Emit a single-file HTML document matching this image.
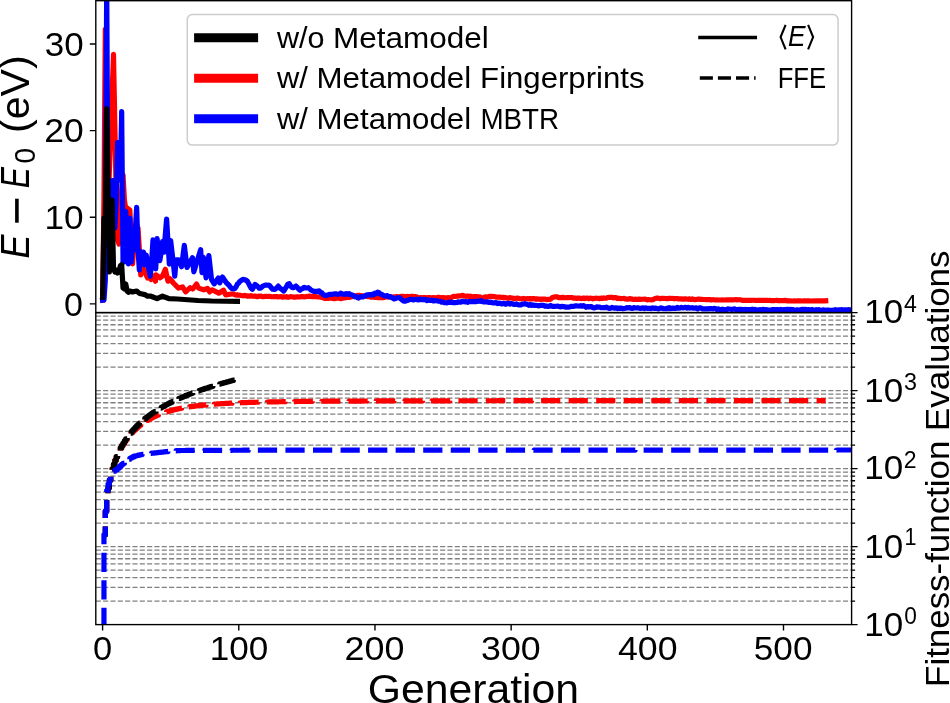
<!DOCTYPE html><html><head><meta charset="utf-8"><style>html,body{margin:0;padding:0;background:#fff;overflow:hidden;}svg{display:block;}#w{will-change:transform;width:950px;height:703px;background:#fff;}</style></head><body><div id="w"><svg width="950" height="703" viewBox="0 0 950 703">
<rect width="950" height="703" fill="#fff"/>
<defs><clipPath id="ct"><rect x="95.80" y="0.70" width="755.80" height="311.90"/></clipPath>
<clipPath id="cb"><rect x="95.80" y="312.60" width="755.80" height="312.00"/></clipPath></defs>
<path d="M95.80 601.12H851.60M95.80 587.38H851.60M95.80 577.64H851.60M95.80 570.08H851.60M95.80 563.90H851.60M95.80 558.68H851.60M95.80 554.16H851.60M95.80 550.17H851.60M95.80 546.60H851.60M95.80 523.12H851.60M95.80 509.38H851.60M95.80 499.64H851.60M95.80 492.08H851.60M95.80 485.90H851.60M95.80 480.68H851.60M95.80 476.16H851.60M95.80 472.17H851.60M95.80 468.60H851.60M95.80 445.12H851.60M95.80 431.38H851.60M95.80 421.64H851.60M95.80 414.08H851.60M95.80 407.90H851.60M95.80 402.68H851.60M95.80 398.16H851.60M95.80 394.17H851.60M95.80 390.60H851.60M95.80 367.12H851.60M95.80 353.38H851.60M95.80 343.64H851.60M95.80 336.08H851.60M95.80 329.90H851.60M95.80 324.68H851.60M95.80 320.16H851.60M95.80 316.17H851.60" stroke="#808080" stroke-width="1.39" stroke-dasharray="5.12 2.205" fill="none"/>
<g clip-path="url(#ct)" fill="none" stroke-width="5.20" stroke-linejoin="round" stroke-linecap="square">
<path d="M102.60 300.00 L103.96 200.00 L105.32 29.30 L106.69 200.00 L108.05 209.00 L109.41 170.00 L110.77 131.00 L112.13 92.80 L113.49 54.40 L114.86 125.00 L116.22 196.30 L117.58 240.00 L118.94 244.00 L120.30 215.00 L121.67 190.00 L123.03 175.00 L124.39 200.00 L125.75 209.00 L127.11 208.00 L128.47 209.00 L129.84 210.00 L131.20 240.00 L132.56 263.80 L133.92 245.00 L135.28 228.00 L136.64 225.00 L138.01 228.00 L139.37 250.00 L140.73 275.00 L142.09 265.00 L143.45 272.00 L144.82 270.00 L146.18 275.00 L147.54 278.00 L148.90 276.00 L150.94 279.40 L152.99 276.00 L155.44 281.20 L155.98 274.90 L160.20 277.80 L162.52 276.00 L165.38 269.30 L167.97 281.20 L170.01 278.80 L173.41 283.00 L178.45 288.10 L182.54 286.90 L185.67 291.80 L190.16 287.70 L192.75 289.00 L196.56 284.10 L198.61 288.10 L203.65 289.80 L207.46 288.50 L209.64 291.90 L212.09 289.80 L217.26 292.30 L218.76 293.20 L223.53 290.20 L225.57 294.80 L233.33 293.76 L234.69 294.80 L236.06 295.06 L237.42 294.85 L238.78 295.16 L240.14 295.27 L241.50 295.56 L242.87 295.79 L244.23 295.45 L245.59 295.55 L246.95 296.17 L248.31 295.93 L249.67 296.21 L251.04 295.72 L252.40 296.07 L253.76 296.31 L255.12 296.01 L256.48 296.55 L257.85 296.56 L259.21 296.00 L260.57 296.04 L261.93 296.44 L263.29 296.76 L264.65 296.41 L266.02 296.34 L267.38 296.53 L268.74 296.30 L270.10 296.47 L271.46 296.67 L272.82 296.75 L274.19 296.61 L275.55 296.65 L276.91 296.69 L278.27 296.87 L279.63 296.75 L281.00 296.57 L282.36 297.14 L283.72 296.94 L285.08 297.00 L286.44 296.68 L287.80 297.24 L289.17 297.15 L290.53 296.63 L291.89 296.78 L293.25 297.05 L294.61 297.00 L295.98 297.12 L297.34 296.71 L298.70 296.96 L300.06 296.80 L301.42 296.50 L302.78 296.66 L304.15 296.82 L305.51 296.75 L306.87 296.47 L308.23 296.48 L309.59 296.11 L310.96 296.32 L312.32 296.77 L313.68 296.57 L315.04 296.46 L316.40 296.79 L317.76 296.96 L319.13 297.00 L320.49 297.06 L321.85 297.44 L323.21 297.82 L324.57 298.34 L325.94 298.50 L327.30 298.37 L328.66 298.37 L330.02 297.99 L331.38 297.98 L332.74 298.44 L334.11 298.64 L335.47 298.37 L336.83 298.23 L338.19 298.07 L339.55 298.30 L340.91 298.64 L342.28 298.30 L343.64 297.95 L345.00 297.97 L346.36 297.34 L347.72 297.34 L349.09 297.45 L350.45 296.97 L351.81 296.65 L353.17 296.27 L354.53 296.22 L355.89 296.26 L357.26 295.35 L358.62 295.65 L359.98 295.43 L361.34 295.71 L362.70 295.85 L364.07 296.14 L365.43 296.18 L366.79 296.46 L368.15 296.60 L369.51 296.50 L370.87 297.22 L372.24 297.15 L373.60 297.03 L374.96 297.38 L376.32 297.51 L377.68 297.56 L379.05 297.69 L380.41 297.72 L381.77 297.68 L383.13 297.57 L384.49 297.36 L385.85 296.96 L387.22 297.00 L388.58 296.86 L389.94 297.04 L391.30 297.13 L392.66 296.99 L394.03 296.91 L395.39 296.92 L396.75 296.53 L398.11 296.94 L399.47 296.82 L400.83 296.41 L402.20 296.36 L403.56 296.36 L404.92 296.88 L406.28 296.52 L407.64 296.43 L409.00 296.79 L410.37 296.59 L411.73 296.40 L413.09 296.46 L414.45 296.72 L415.81 296.70 L417.18 297.05 L418.54 297.64 L419.90 297.75 L421.26 297.68 L422.62 297.78 L423.98 297.47 L425.35 297.72 L426.71 297.74 L428.07 297.58 L429.43 297.53 L430.79 298.08 L432.16 297.81 L433.52 297.60 L434.88 297.87 L436.24 298.02 L437.60 297.46 L438.96 297.46 L440.33 297.55 L441.69 297.95 L443.05 297.56 L444.41 297.94 L445.77 297.92 L447.14 297.83 L448.50 297.60 L449.86 298.13 L451.22 297.61 L452.58 296.70 L453.94 296.36 L455.31 296.51 L456.67 296.19 L458.03 296.18 L459.39 295.86 L460.75 295.93 L462.12 295.39 L463.48 295.66 L464.84 296.24 L466.20 296.28 L467.56 295.98 L468.92 296.47 L470.29 296.19 L471.65 296.73 L473.01 296.71 L474.37 296.63 L475.73 296.65 L477.09 296.62 L478.46 297.37 L479.82 296.93 L481.18 297.61 L482.54 297.86 L483.90 297.49 L485.27 296.91 L486.63 297.10 L487.99 296.87 L489.35 296.38 L490.71 296.35 L492.07 296.41 L493.44 296.55 L494.80 296.61 L496.16 297.09 L497.52 297.08 L498.88 297.07 L500.25 297.11 L501.61 297.59 L502.97 297.42 L504.33 297.66 L505.69 297.62 L507.05 298.10 L508.42 298.21 L509.78 297.68 L511.14 297.87 L512.50 298.02 L513.86 298.55 L515.23 298.47 L516.59 298.22 L517.95 298.20 L519.31 298.59 L520.67 298.75 L522.03 298.84 L523.40 298.46 L524.76 298.86 L526.12 298.75 L527.48 298.63 L528.84 299.01 L530.21 298.51 L531.57 298.91 L532.93 298.52 L534.29 298.64 L535.65 299.22 L537.01 298.79 L538.38 299.23 L539.74 299.18 L541.10 299.41 L542.46 299.14 L543.82 299.18 L545.18 299.20 L546.55 299.63 L547.91 299.28 L549.27 299.36 L550.63 299.10 L551.99 297.80 L553.36 297.33 L554.72 296.86 L556.08 296.86 L557.44 296.94 L558.80 297.54 L560.16 297.54 L561.53 297.62 L562.89 297.32 L564.25 297.57 L565.61 297.73 L566.97 297.50 L568.34 297.70 L569.70 297.52 L571.06 297.49 L572.42 297.69 L573.78 298.20 L575.14 298.04 L576.51 298.36 L577.87 298.10 L579.23 298.04 L580.59 298.47 L581.95 298.57 L583.32 298.06 L584.68 298.53 L586.04 298.13 L587.40 298.16 L588.76 298.70 L590.12 298.12 L591.49 298.27 L592.85 298.80 L594.21 298.41 L595.57 298.21 L596.93 298.25 L598.30 298.32 L599.66 298.60 L601.02 298.02 L602.38 298.46 L603.74 297.96 L605.10 298.24 L606.47 298.07 L607.83 297.51 L609.19 297.35 L610.55 297.39 L611.91 297.28 L613.27 297.83 L614.64 297.56 L616.00 297.69 L617.36 298.53 L618.72 298.21 L620.08 298.57 L621.45 298.53 L622.81 298.49 L624.17 298.38 L625.53 299.03 L626.89 299.13 L628.25 299.19 L629.62 298.65 L630.98 298.79 L632.34 299.13 L633.70 299.44 L635.06 299.20 L636.43 299.35 L637.79 299.38 L639.15 299.14 L640.51 299.38 L641.87 299.26 L643.23 299.26 L644.60 299.19 L645.96 299.37 L647.32 299.90 L648.68 299.57 L650.04 299.76 L651.41 299.79 L652.77 299.67 L654.13 298.89 L655.49 298.44 L656.85 298.08 L658.21 298.12 L659.58 298.53 L660.94 298.61 L662.30 298.24 L663.66 298.30 L665.02 298.49 L666.39 298.56 L667.75 298.61 L669.11 298.41 L670.47 298.30 L671.83 298.50 L673.19 298.41 L674.56 298.78 L675.92 298.48 L677.28 298.51 L678.64 298.94 L680.00 298.73 L681.37 299.11 L682.73 298.94 L684.09 299.23 L685.45 298.76 L686.81 299.04 L688.17 299.28 L689.54 298.81 L690.90 299.45 L692.26 298.94 L693.62 299.39 L694.98 299.58 L696.34 299.51 L697.71 299.20 L699.07 299.09 L700.43 299.41 L701.79 299.38 L703.15 299.50 L704.52 299.50 L705.88 299.60 L707.24 299.64 L708.60 299.55 L709.96 299.58 L711.32 299.82 L712.69 299.72 L714.05 299.76 L715.41 299.98 L716.77 299.89 L718.13 300.02 L719.50 299.98 L720.86 300.02 L722.22 299.88 L723.58 299.98 L724.94 300.02 L726.30 299.91 L727.67 299.95 L729.03 299.91 L730.39 299.74 L731.75 299.89 L733.11 299.83 L734.48 299.74 L735.84 299.66 L737.20 299.84 L738.56 299.72 L739.92 299.76 L741.28 300.06 L742.65 300.35 L744.01 300.41 L745.37 300.29 L746.73 300.39 L748.09 300.31 L749.45 300.44 L750.82 300.43 L752.18 300.25 L753.54 300.26 L754.90 300.29 L756.26 300.48 L757.63 300.35 L758.99 300.41 L760.35 300.33 L761.71 300.39 L763.07 300.37 L764.43 300.37 L765.80 300.43 L767.16 300.43 L768.52 300.52 L769.88 300.47 L771.24 300.53 L772.61 300.52 L773.97 300.56 L775.33 300.49 L776.69 300.38 L778.05 300.55 L779.41 300.58 L780.78 300.57 L782.14 300.50 L783.50 300.54 L784.86 300.42 L786.22 300.58 L787.59 300.86 L788.95 300.85 L790.31 300.80 L791.67 300.98 L793.03 301.02 L794.39 300.80 L795.76 300.97 L797.12 300.88 L798.48 300.82 L799.84 300.85 L801.20 300.96 L802.57 300.99 L803.93 300.79 L805.29 300.93 L806.65 300.79 L808.01 300.95 L809.37 300.86 L810.74 300.99 L812.10 301.02 L813.46 300.90 L814.82 301.02 L816.18 300.85 L817.54 300.80 L818.91 300.92 L820.27 300.79 L821.63 300.83 L822.99 300.88 L824.35 300.93 L825.72 300.82" stroke="#ff0000"/>
<path d="M102.60 300.20 L103.96 300.00 L105.32 280.00 L106.69 -16.60 L108.05 228.00 L109.41 180.60 L110.77 225.00 L112.13 180.60 L113.49 180.60 L114.86 228.00 L116.22 200.00 L117.58 142.60 L118.94 142.60 L120.30 180.00 L121.67 111.60 L123.03 262.00 L124.39 262.00 L125.75 211.30 L127.11 240.00 L128.47 264.00 L129.84 218.00 L131.20 262.00 L132.56 240.00 L133.92 250.00 L135.28 230.00 L136.64 207.30 L138.01 250.00 L139.37 270.00 L140.73 251.60 L142.09 262.00 L143.45 252.00 L144.82 265.00 L146.18 255.00 L147.54 262.00 L148.90 270.00 L150.26 276.10 L151.62 262.00 L152.99 239.90 L154.35 250.00 L155.71 268.80 L157.07 238.60 L158.43 250.00 L159.80 260.70 L161.16 252.00 L162.52 241.60 L163.88 252.20 L166.60 219.00 L169.33 264.10 L170.69 240.70 L174.78 276.10 L176.14 259.90 L178.86 259.90 L181.58 266.70 L184.31 245.40 L187.03 267.50 L192.48 257.80 L193.84 271.80 L200.65 249.70 L202.01 272.70 L203.37 257.40 L206.10 277.80 L208.82 255.60 L211.54 279.50 L214.27 283.80 L218.35 277.90 L219.71 282.90 L222.44 277.00 L226.52 282.90 L229.25 285.50 L230.61 287.34 L231.97 288.59 L233.33 288.77 L234.69 288.63 L236.06 286.85 L237.42 284.07 L238.78 282.76 L240.14 281.09 L241.50 280.22 L242.87 279.32 L244.23 279.78 L245.59 279.76 L246.95 280.76 L248.31 282.90 L249.67 285.48 L251.04 287.99 L252.40 289.19 L253.76 286.66 L255.12 284.50 L256.48 285.37 L257.85 286.65 L259.21 288.20 L260.57 288.17 L261.93 286.87 L263.29 285.82 L264.65 285.31 L266.02 285.02 L267.38 285.26 L268.74 285.06 L270.10 286.14 L271.46 287.99 L272.82 289.25 L274.19 289.41 L275.55 289.03 L276.91 287.67 L278.27 286.11 L279.63 287.85 L281.00 288.81 L282.36 289.82 L283.72 291.06 L285.08 288.82 L286.44 286.78 L287.80 284.19 L289.17 283.72 L290.53 285.95 L291.89 287.25 L293.25 287.73 L294.61 287.00 L295.98 286.02 L297.34 287.30 L298.70 289.04 L300.06 290.26 L301.42 288.91 L302.78 288.46 L304.15 287.32 L305.51 287.96 L306.87 287.98 L308.23 287.67 L309.59 288.71 L310.96 290.04 L312.32 290.71 L313.68 291.34 L315.04 291.29 L316.40 291.28 L317.76 291.60 L319.13 290.83 L320.49 292.49 L321.85 292.82 L323.21 294.69 L324.57 295.07 L325.94 295.69 L327.30 295.11 L328.66 294.58 L330.02 294.32 L331.38 294.43 L332.74 294.31 L334.11 293.93 L335.47 293.76 L336.83 294.02 L338.19 294.39 L339.55 293.89 L340.91 293.10 L342.28 294.06 L343.64 294.03 L345.00 294.32 L346.36 293.55 L347.72 294.29 L349.09 293.55 L350.45 294.70 L351.81 294.84 L353.17 295.39 L354.53 296.77 L355.89 296.44 L357.26 297.54 L358.62 298.04 L359.98 296.95 L361.34 296.55 L362.70 296.99 L364.07 296.05 L365.43 296.02 L366.79 294.81 L368.15 294.95 L369.51 294.56 L370.87 295.01 L372.24 294.14 L373.60 294.78 L374.96 293.18 L376.32 293.53 L377.68 292.18 L379.05 292.64 L380.41 294.21 L381.77 294.33 L383.13 295.27 L384.49 296.05 L385.85 295.82 L387.22 295.54 L388.58 296.88 L389.94 296.54 L391.30 297.07 L392.66 298.10 L394.03 298.88 L395.39 298.77 L396.75 297.75 L398.11 297.76 L399.47 297.58 L400.83 298.91 L402.20 300.11 L403.56 300.90 L404.92 301.27 L406.28 300.68 L407.64 300.40 L409.00 299.80 L410.37 299.45 L411.73 299.28 L413.09 299.94 L414.45 299.66 L415.81 299.32 L417.18 299.60 L418.54 299.99 L419.90 298.96 L421.26 299.62 L422.62 299.52 L423.98 299.80 L425.35 299.48 L426.71 300.59 L428.07 299.88 L429.43 300.43 L430.79 300.35 L432.16 300.07 L433.52 300.93 L434.88 300.64 L436.24 300.74 L437.60 300.92 L438.96 301.28 L440.33 301.41 L441.69 302.19 L443.05 302.11 L444.41 302.74 L445.77 302.75 L447.14 302.88 L448.50 302.03 L449.86 302.35 L451.22 302.18 L452.58 302.56 L453.94 302.54 L455.31 302.68 L456.67 302.51 L458.03 301.90 L459.39 302.04 L460.75 302.10 L462.12 301.41 L463.48 301.44 L464.84 301.89 L466.20 301.53 L467.56 302.27 L468.92 301.69 L470.29 301.52 L471.65 301.62 L473.01 301.63 L474.37 301.45 L475.73 301.65 L477.09 301.42 L478.46 301.07 L479.82 301.31 L481.18 300.68 L482.54 301.73 L483.90 302.01 L485.27 301.95 L486.63 301.81 L487.99 302.11 L489.35 302.41 L490.71 301.99 L492.07 302.65 L493.44 302.99 L494.80 302.68 L496.16 302.65 L497.52 303.58 L498.88 303.14 L500.25 303.40 L501.61 303.96 L502.97 303.66 L504.33 303.35 L505.69 304.25 L507.05 303.58 L508.42 303.22 L509.78 304.09 L511.14 303.45 L512.50 303.76 L513.86 304.47 L515.23 304.42 L516.59 303.91 L517.95 304.72 L519.31 304.95 L520.67 304.93 L522.03 304.09 L523.40 304.13 L524.76 303.70 L526.12 304.14 L527.48 304.43 L528.84 305.30 L530.21 304.45 L531.57 305.39 L532.93 304.82 L534.29 305.37 L535.65 305.26 L537.01 305.45 L538.38 305.90 L539.74 305.58 L541.10 305.35 L542.46 305.37 L543.82 305.35 L545.18 306.30 L546.55 306.07 L547.91 306.48 L549.27 306.19 L550.63 305.41 L551.99 306.21 L553.36 306.43 L554.72 306.45 L556.08 306.25 L557.44 306.16 L558.80 306.36 L560.16 306.85 L561.53 306.29 L562.89 306.63 L564.25 306.57 L565.61 307.15 L566.97 306.97 L568.34 307.12 L569.70 307.00 L571.06 306.36 L572.42 306.28 L573.78 306.41 L575.14 305.93 L576.51 305.93 L577.87 306.03 L579.23 306.12 L580.59 305.72 L581.95 306.25 L583.32 305.65 L584.68 306.22 L586.04 307.25 L587.40 306.49 L588.76 307.01 L590.12 306.63 L591.49 306.70 L592.85 307.72 L594.21 307.87 L595.57 307.50 L596.93 306.92 L598.30 307.17 L599.66 307.13 L601.02 307.70 L602.38 307.76 L603.74 307.51 L605.10 307.66 L606.47 307.22 L607.83 307.79 L609.19 308.33 L610.55 308.15 L611.91 307.41 L613.27 307.96 L614.64 308.25 L616.00 307.76 L617.36 308.57 L618.72 308.10 L620.08 308.44 L621.45 308.06 L622.81 308.75 L624.17 308.48 L625.53 308.21 L626.89 307.68 L628.25 308.01 L629.62 307.50 L630.98 308.16 L632.34 308.48 L633.70 307.62 L635.06 308.00 L636.43 307.94 L637.79 307.83 L639.15 308.18 L640.51 308.43 L641.87 308.17 L643.23 307.92 L644.60 308.54 L645.96 307.81 L647.32 308.34 L648.68 308.27 L650.04 308.43 L651.41 308.57 L652.77 307.85 L654.13 308.36 L655.49 308.13 L656.85 308.48 L658.21 308.88 L659.58 308.50 L660.94 307.79 L662.30 308.35 L663.66 308.59 L665.02 308.75 L666.39 308.42 L667.75 308.57 L669.11 307.55 L670.47 308.61 L671.83 308.31 L673.19 308.11 L674.56 308.41 L675.92 308.34 L677.28 307.35 L678.64 308.15 L680.00 308.04 L681.37 307.31 L682.73 307.91 L684.09 307.74 L685.45 307.33 L686.81 308.13 L688.17 307.40 L689.54 308.03 L690.90 307.88 L692.26 307.72 L693.62 308.16 L694.98 308.10 L696.34 307.85 L697.71 308.83 L699.07 307.82 L700.43 307.80 L701.79 308.44 L703.15 308.93 L704.52 308.77 L705.88 308.95 L707.24 308.69 L708.60 308.98 L709.96 308.64 L711.32 308.62 L712.69 308.97 L714.05 308.46 L715.41 308.58 L716.77 309.46 L718.13 308.82 L719.50 309.58 L720.86 309.65 L722.22 309.21 L723.58 309.55 L724.94 309.70 L726.30 309.81 L727.67 308.95 L729.03 309.00 L730.39 309.28 L731.75 309.39 L733.11 309.20 L734.48 308.88 L735.84 309.55 L737.20 310.05 L738.56 309.35 L739.92 309.57 L741.28 309.40 L742.65 309.49 L744.01 310.02 L745.37 309.36 L746.73 309.78 L748.09 309.60 L749.45 309.68 L750.82 310.15 L752.18 309.16 L753.54 310.07 L754.90 309.46 L756.26 309.89 L757.63 310.08 L758.99 309.93 L760.35 309.63 L761.71 310.18 L763.07 309.30 L764.43 309.96 L765.80 309.67 L767.16 309.84 L768.52 310.22 L769.88 310.16 L771.24 309.95 L772.61 309.57 L773.97 309.48 L775.33 309.75 L776.69 309.48 L778.05 309.53 L779.41 310.35 L780.78 309.33 L782.14 310.18 L783.50 309.66 L784.86 309.64 L786.22 309.58 L787.59 309.29 L788.95 309.75 L790.31 309.40 L791.67 309.73 L793.03 309.55 L794.39 310.27 L795.76 310.31 L797.12 309.73 L798.48 309.97 L799.84 310.32 L801.20 309.59 L802.57 309.32 L803.93 309.49 L805.29 309.43 L806.65 310.01 L808.01 309.65 L809.37 309.63 L810.74 310.16 L812.10 309.49 L813.46 310.19 L814.82 309.98 L816.18 309.71 L817.54 310.22 L818.91 309.65 L820.27 310.30 L821.63 310.36 L822.99 309.86 L824.35 310.09 L825.72 310.41 L827.08 310.16 L828.44 310.18 L829.80 310.33 L831.16 310.41 L832.52 310.20 L833.89 310.47 L835.25 309.65 L836.61 310.06 L837.97 310.12 L839.33 309.76 L840.70 309.80 L842.06 309.54 L843.42 310.48 L844.78 309.77 L846.14 309.92 L847.50 310.42 L848.87 309.58 L850.23 310.51 L851.59 309.52 L852.95 309.41 L854.31 309.80 L855.68 309.81 L857.04 310.49 L858.40 310.45 L859.76 310.31 L861.12 309.92 L862.48 310.05 L863.85 309.68 L865.21 310.40" stroke="#0000ff"/>
<path d="M102.60 297.30 L103.96 218.00 L105.32 222.00 L106.69 108.50 L108.05 190.00 L109.41 272.00 L110.77 215.00 L112.13 200.20 L113.49 268.00 L114.86 272.00 L116.22 270.00 L117.58 273.00 L118.94 272.00 L120.30 266.00 L121.67 264.70 L123.03 288.00 L124.39 289.00 L125.75 284.00 L127.11 291.00 L128.47 292.20 L129.84 291.00 L132.56 292.00 L136.64 291.00 L139.37 293.40 L142.09 294.00 L144.82 294.60 L147.54 296.20 L150.26 296.00 L152.99 297.00 L157.07 298.70 L162.52 296.20 L169.33 298.70 L177.50 299.00 L184.31 299.50 L197.93 300.50 L211.54 301.00 L237.42 301.30" stroke="#000000"/>
</g>
<g clip-path="url(#cb)" fill="none" stroke-linejoin="round" stroke-linecap="butt">
<path d="M103.96 534.72 L105.32 534.72 L105.32 511.24 L106.69 511.24 L106.69 497.51 L108.05 497.51 L108.05 487.78 L109.41 487.78 L109.41 480.23 L110.77 480.23 L110.77 474.07 L112.13 474.07 L112.13 468.87 L113.49 468.87 L113.49 464.38 L114.86 464.38 L114.86 460.42 L116.22 460.42 L116.22 456.90 L117.58 456.90 L117.58 453.72 L118.94 453.72 L118.94 450.82 L120.30 450.82 L120.30 448.18 L121.67 448.18 L121.67 445.74 L123.03 445.74 L123.03 443.48 L124.39 443.48 L124.39 441.38 L125.75 441.38 L125.75 439.42 L127.11 439.42 L127.11 437.59 L128.47 437.59 L128.47 435.88 L129.84 435.88 L129.84 434.26 L131.20 434.26 L131.20 432.74 L132.56 432.74 L132.56 431.31 L133.92 431.31 L133.92 429.95 L135.28 429.95 L135.28 428.67 L136.64 428.67 L136.64 427.45 L138.01 427.45 L138.01 426.30 L139.37 426.30 L139.37 425.21 L140.73 425.21 L140.73 424.17 L142.09 424.17 L142.09 423.18 L143.45 423.18 L143.45 422.24 L144.82 422.24 L144.82 421.35 L146.18 421.35 L146.18 420.50 L147.54 420.50 L147.54 419.69 L148.90 419.69 L148.90 418.92 L150.26 418.92 L150.26 418.19 L151.62 418.19 L151.62 417.48 L152.99 417.48 L152.99 416.82 L154.35 416.82 L154.35 416.18 L155.71 416.18 L155.71 415.57 L157.07 415.57 L157.07 414.99 L158.43 414.99 L158.43 414.44 L159.80 414.44 L159.80 413.91 L161.16 413.91 L161.16 413.40 L162.52 413.40 L162.52 412.92" stroke="#ff0000" stroke-width="5.20" stroke-dasharray="19.24 8.32" stroke-dashoffset="9.59"/>
<path d="M162.52 412.92 L163.88 412.92 L163.88 412.46 L165.24 412.46 L165.24 412.02 L166.60 412.02 L166.60 411.60 L167.97 411.60 L167.97 411.20 L169.33 411.20 L169.33 410.81 L170.69 410.81 L170.69 410.44 L172.05 410.44 L172.05 410.09 L173.41 410.09 L173.41 409.75 L174.78 409.75 L174.78 409.43 L176.14 409.43 L176.14 409.12 L177.50 409.12 L177.50 408.83 L178.86 408.83 L178.86 408.54 L180.22 408.54 L180.22 408.27 L181.58 408.27 L181.58 408.01 L182.95 408.01 L182.95 407.77 L184.31 407.77 L184.31 407.53 L185.67 407.53 L185.67 407.30 L187.03 407.30 L187.03 407.08 L188.39 407.08 L188.39 406.87 L189.76 406.87 L189.76 406.67 L191.12 406.67 L191.12 406.47 L192.48 406.47 L192.48 406.29 L193.84 406.29 L193.84 406.11 L195.20 406.11 L195.20 405.94 L196.56 405.94 L196.56 405.77 L197.93 405.77 L197.93 405.61 L199.29 405.61 L199.29 405.46 L200.65 405.46 L200.65 405.31 L202.01 405.31 L202.01 405.17 L203.37 405.17 L203.37 405.04 L204.73 405.04 L204.73 404.91 L206.10 404.91 L206.10 404.78 L207.46 404.78 L207.46 404.66 L208.82 404.66 L208.82 404.55 L210.18 404.55 L210.18 404.43 L211.54 404.43 L211.54 404.33 L212.91 404.33 L212.91 404.22 L214.27 404.22 L214.27 404.12 L215.63 404.12 L215.63 404.02 L216.99 404.02 L216.99 403.93 L218.35 403.93 L218.35 403.84 L219.71 403.84 L219.71 403.75 L221.08 403.75 L221.08 403.67 L222.44 403.67 L222.44 403.59 L223.80 403.59 L223.80 403.51 L225.16 403.51 L225.16 403.44 L226.52 403.44 L226.52 403.36 L227.89 403.36 L227.89 403.29 L229.25 403.29 L229.25 403.22 L230.61 403.22 L230.61 403.16 L231.97 403.16 L231.97 403.09 L233.33 403.09 L233.33 403.03 L234.69 403.03 L234.69 402.97 L236.06 402.97 L236.06 402.91 L237.42 402.91 L237.42 402.86 L238.78 402.86 L238.78 402.80 L240.14 402.80 L240.14 402.75 L241.50 402.75 L241.50 402.70 L242.87 402.70 L242.87 402.65 L244.23 402.65 L244.23 402.60 L245.59 402.60 L245.59 402.56 L246.95 402.56 L246.95 402.51 L248.31 402.51 L248.31 402.47 L249.67 402.47 L249.67 402.43 L251.04 402.43 L251.04 402.39 L252.40 402.39 L252.40 402.35 L253.76 402.35 L253.76 402.31 L255.12 402.31 L255.12 402.27 L256.48 402.27 L256.48 402.23 L257.85 402.23 L257.85 402.20 L259.21 402.20 L259.21 402.16 L260.57 402.16 L260.57 402.13 L261.93 402.13 L261.93 402.10 L263.29 402.10 L263.29 402.07 L264.65 402.07 L264.65 402.04 L266.02 402.04 L266.02 402.01 L267.38 402.01 L267.38 401.98 L268.74 401.98 L268.74 401.95 L270.10 401.95 L270.10 401.92 L271.46 401.92 L271.46 401.89 L272.82 401.89 L272.82 401.87 L274.19 401.87 L274.19 401.84 L275.55 401.84 L275.55 401.82 L276.91 401.82 L276.91 401.79 L278.27 401.79 L278.27 401.77 L279.63 401.77 L279.63 401.75 L281.00 401.75 L281.00 401.73 L282.36 401.73 L282.36 401.70 L283.72 401.70 L283.72 401.68 L285.08 401.68 L285.08 401.66 L286.44 401.66 L286.44 401.64 L287.80 401.64 L287.80 401.62 L289.17 401.62 L289.17 401.60 L290.53 401.60 L290.53 401.59 L291.89 401.59 L291.89 401.57 L293.25 401.57 L293.25 401.55 L294.61 401.55 L294.61 401.53 L295.98 401.53 L295.98 401.52 L297.34 401.52 L297.34 401.50 L298.70 401.50 L298.70 401.48 L300.06 401.48 L300.06 401.47 L301.42 401.47 L301.42 401.45 L302.78 401.45 L302.78 401.44 L304.15 401.44 L304.15 401.42 L305.51 401.42 L305.51 401.41 L306.87 401.41 L306.87 401.39 L308.23 401.39 L308.23 401.38 L309.59 401.38 L309.59 401.37 L310.96 401.37 L310.96 401.35 L312.32 401.35 L312.32 401.34 L313.68 401.34 L313.68 401.33 L315.04 401.33 L315.04 401.32 L316.40 401.32 L316.40 401.30 L317.76 401.30 L317.76 401.29 L319.13 401.29 L319.13 401.28 L320.49 401.28 L320.49 401.27 L321.85 401.27 L321.85 401.26 L323.21 401.26 L323.21 401.25 L324.57 401.25 L324.57 401.24 L325.94 401.24 L325.94 401.23 L327.30 401.23 L327.30 401.22 L328.66 401.22 L328.66 401.21 L330.02 401.21 L330.02 401.20 L331.38 401.20 L331.38 401.19 L332.74 401.19 L332.74 401.18 L334.11 401.18 L334.11 401.17 L335.47 401.17 L335.47 401.16 L336.83 401.16 L336.83 401.15 L338.19 401.15 L338.19 401.14 L339.55 401.14 L339.55 401.14 L340.91 401.14 L340.91 401.13 L342.28 401.13 L342.28 401.12 L343.64 401.12 L343.64 401.11 L345.00 401.11 L345.00 401.10 L346.36 401.10 L346.36 401.10 L347.72 401.10 L347.72 401.09 L349.09 401.09 L349.09 401.08 L350.45 401.08 L350.45 401.08 L351.81 401.08 L351.81 401.07 L353.17 401.07 L353.17 401.06 L354.53 401.06 L354.53 401.05 L355.89 401.05 L355.89 401.05 L357.26 401.05 L357.26 401.04 L358.62 401.04 L358.62 401.04 L359.98 401.04 L359.98 401.03 L361.34 401.03 L361.34 401.02 L362.70 401.02 L362.70 401.02 L364.07 401.02 L364.07 401.01 L365.43 401.01 L365.43 401.01 L366.79 401.01 L366.79 401.00 L368.15 401.00 L368.15 400.99 L369.51 400.99 L369.51 400.99 L370.87 400.99 L370.87 400.98 L372.24 400.98 L372.24 400.98 L373.60 400.98 L373.60 400.97 L374.96 400.97 L374.96 400.97 L376.32 400.97 L376.32 400.96 L377.68 400.96 L377.68 400.96 L379.05 400.96 L379.05 400.95 L380.41 400.95 L380.41 400.95 L381.77 400.95 L381.77 400.94 L383.13 400.94 L383.13 400.94 L384.49 400.94 L384.49 400.93 L385.85 400.93 L385.85 400.93 L387.22 400.93 L387.22 400.93 L388.58 400.93 L388.58 400.92 L389.94 400.92 L389.94 400.92 L391.30 400.92 L391.30 400.91 L392.66 400.91 L392.66 400.91 L394.03 400.91 L394.03 400.90 L395.39 400.90 L395.39 400.90 L396.75 400.90 L396.75 400.90 L398.11 400.90 L398.11 400.89 L399.47 400.89 L399.47 400.89 L400.83 400.89 L400.83 400.89 L402.20 400.89 L402.20 400.88 L403.56 400.88 L403.56 400.88 L404.92 400.88 L404.92 400.87 L406.28 400.87 L406.28 400.87 L407.64 400.87 L407.64 400.87 L409.00 400.87 L409.00 400.86 L410.37 400.86 L410.37 400.86 L411.73 400.86 L411.73 400.86 L413.09 400.86 L413.09 400.85 L414.45 400.85 L414.45 400.85 L415.81 400.85 L415.81 400.85 L417.18 400.85 L417.18 400.85 L418.54 400.85 L418.54 400.84 L419.90 400.84 L419.90 400.84 L421.26 400.84 L421.26 400.84 L422.62 400.84 L422.62 400.83 L423.98 400.83 L423.98 400.83 L425.35 400.83 L425.35 400.83 L426.71 400.83 L426.71 400.82 L428.07 400.82 L428.07 400.82 L429.43 400.82 L429.43 400.82 L430.79 400.82 L430.79 400.82 L432.16 400.82 L432.16 400.81 L433.52 400.81 L433.52 400.81 L434.88 400.81 L434.88 400.81 L436.24 400.81 L436.24 400.81 L437.60 400.81 L437.60 400.80 L438.96 400.80 L438.96 400.80 L440.33 400.80 L440.33 400.80 L441.69 400.80 L441.69 400.80 L443.05 400.80 L443.05 400.79 L444.41 400.79 L444.41 400.79 L445.77 400.79 L445.77 400.79 L447.14 400.79 L447.14 400.79 L448.50 400.79 L448.50 400.79 L449.86 400.79 L449.86 400.78 L451.22 400.78 L451.22 400.78 L452.58 400.78 L452.58 400.78 L453.94 400.78 L453.94 400.78 L455.31 400.78 L455.31 400.78 L456.67 400.78 L456.67 400.77 L458.03 400.77 L458.03 400.77 L459.39 400.77 L459.39 400.77 L460.75 400.77 L460.75 400.77 L462.12 400.77 L462.12 400.77 L463.48 400.77 L463.48 400.76 L464.84 400.76 L464.84 400.76 L466.20 400.76 L466.20 400.76 L467.56 400.76 L467.56 400.76 L468.92 400.76 L468.92 400.76 L470.29 400.76 L470.29 400.75 L471.65 400.75 L471.65 400.75 L473.01 400.75 L473.01 400.75 L474.37 400.75 L474.37 400.75 L475.73 400.75 L475.73 400.75 L477.09 400.75 L477.09 400.75 L478.46 400.75 L478.46 400.74 L479.82 400.74 L479.82 400.74 L481.18 400.74 L481.18 400.74 L482.54 400.74 L482.54 400.74 L483.90 400.74 L483.90 400.74 L485.27 400.74 L485.27 400.74 L486.63 400.74 L486.63 400.74 L487.99 400.74 L487.99 400.73 L489.35 400.73 L489.35 400.73 L490.71 400.73 L490.71 400.73 L492.07 400.73 L492.07 400.73 L493.44 400.73 L493.44 400.73 L494.80 400.73 L494.80 400.73 L496.16 400.73 L496.16 400.73 L497.52 400.73 L497.52 400.72 L498.88 400.72 L498.88 400.72 L500.25 400.72 L500.25 400.72 L501.61 400.72 L501.61 400.72 L502.97 400.72 L502.97 400.72 L504.33 400.72 L504.33 400.72 L505.69 400.72 L505.69 400.72 L507.05 400.72 L507.05 400.71 L508.42 400.71 L508.42 400.71 L509.78 400.71 L509.78 400.71 L511.14 400.71 L511.14 400.71 L512.50 400.71 L512.50 400.71 L513.86 400.71 L513.86 400.71 L515.23 400.71 L515.23 400.71 L516.59 400.71 L516.59 400.71 L517.95 400.71 L517.95 400.71 L519.31 400.71 L519.31 400.70 L520.67 400.70 L520.67 400.70 L522.03 400.70 L522.03 400.70 L523.40 400.70 L523.40 400.70 L524.76 400.70 L524.76 400.70 L526.12 400.70 L526.12 400.70 L527.48 400.70 L527.48 400.70 L528.84 400.70 L528.84 400.70 L530.21 400.70 L530.21 400.70 L531.57 400.70 L531.57 400.69 L532.93 400.69 L532.93 400.69 L534.29 400.69 L534.29 400.69 L535.65 400.69 L535.65 400.69 L537.01 400.69 L537.01 400.69 L538.38 400.69 L538.38 400.69 L539.74 400.69 L539.74 400.69 L541.10 400.69 L541.10 400.69 L542.46 400.69 L542.46 400.69 L543.82 400.69 L543.82 400.69 L545.18 400.69 L545.18 400.68 L546.55 400.68 L546.55 400.68 L547.91 400.68 L547.91 400.68 L549.27 400.68 L549.27 400.68 L550.63 400.68 L550.63 400.68 L551.99 400.68 L551.99 400.68 L553.36 400.68 L553.36 400.68 L554.72 400.68 L554.72 400.68 L556.08 400.68 L556.08 400.68 L557.44 400.68 L557.44 400.68 L558.80 400.68 L558.80 400.68 L560.16 400.68 L560.16 400.68 L561.53 400.68 L561.53 400.67 L562.89 400.67 L562.89 400.67 L564.25 400.67 L564.25 400.67 L565.61 400.67 L565.61 400.67 L566.97 400.67 L566.97 400.67 L568.34 400.67 L568.34 400.67 L569.70 400.67 L569.70 400.67 L571.06 400.67 L571.06 400.67 L572.42 400.67 L572.42 400.67 L573.78 400.67 L573.78 400.67 L575.14 400.67 L575.14 400.67 L576.51 400.67 L576.51 400.67 L577.87 400.67 L577.87 400.67 L579.23 400.67 L579.23 400.67 L580.59 400.67 L580.59 400.66 L581.95 400.66 L581.95 400.66 L583.32 400.66 L583.32 400.66 L584.68 400.66 L584.68 400.66 L586.04 400.66 L586.04 400.66 L587.40 400.66 L587.40 400.66 L588.76 400.66 L588.76 400.66 L590.12 400.66 L590.12 400.66 L591.49 400.66 L591.49 400.66 L592.85 400.66 L592.85 400.66 L594.21 400.66 L594.21 400.66 L595.57 400.66 L595.57 400.66 L596.93 400.66 L596.93 400.66 L598.30 400.66 L598.30 400.66 L599.66 400.66 L599.66 400.66 L601.02 400.66 L601.02 400.66 L602.38 400.66 L602.38 400.65 L603.74 400.65 L603.74 400.65 L605.10 400.65 L605.10 400.65 L606.47 400.65 L606.47 400.65 L607.83 400.65 L607.83 400.65 L609.19 400.65 L609.19 400.65 L610.55 400.65 L610.55 400.65 L611.91 400.65 L611.91 400.65 L613.27 400.65 L613.27 400.65 L614.64 400.65 L614.64 400.65 L616.00 400.65 L616.00 400.65 L617.36 400.65 L617.36 400.65 L618.72 400.65 L618.72 400.65 L620.08 400.65 L620.08 400.65 L621.45 400.65 L621.45 400.65 L622.81 400.65 L622.81 400.65 L624.17 400.65 L624.17 400.65 L625.53 400.65 L625.53 400.65 L626.89 400.65 L626.89 400.64 L628.25 400.64 L628.25 400.64 L629.62 400.64 L629.62 400.64 L630.98 400.64 L630.98 400.64 L632.34 400.64 L632.34 400.64 L633.70 400.64 L633.70 400.64 L635.06 400.64 L635.06 400.64 L636.43 400.64 L636.43 400.64 L637.79 400.64 L637.79 400.64 L639.15 400.64 L639.15 400.64 L640.51 400.64 L640.51 400.64 L641.87 400.64 L641.87 400.64 L643.23 400.64 L643.23 400.64 L644.60 400.64 L644.60 400.64 L645.96 400.64 L645.96 400.64 L647.32 400.64 L647.32 400.64 L648.68 400.64 L648.68 400.64 L650.04 400.64 L650.04 400.64 L651.41 400.64 L651.41 400.64 L652.77 400.64 L652.77 400.64 L654.13 400.64 L654.13 400.64 L655.49 400.64 L655.49 400.64 L656.85 400.64 L656.85 400.63 L658.21 400.63 L658.21 400.63 L659.58 400.63 L659.58 400.63 L660.94 400.63 L660.94 400.63 L662.30 400.63 L662.30 400.63 L663.66 400.63 L663.66 400.63 L665.02 400.63 L665.02 400.63 L666.39 400.63 L666.39 400.63 L667.75 400.63 L667.75 400.63 L669.11 400.63 L669.11 400.63 L670.47 400.63 L670.47 400.63 L671.83 400.63 L671.83 400.63 L673.19 400.63 L673.19 400.63 L674.56 400.63 L674.56 400.63 L675.92 400.63 L675.92 400.63 L677.28 400.63 L677.28 400.63 L678.64 400.63 L678.64 400.63 L680.00 400.63 L680.00 400.63 L681.37 400.63 L681.37 400.63 L682.73 400.63 L682.73 400.63 L684.09 400.63 L684.09 400.63 L685.45 400.63 L685.45 400.63 L686.81 400.63 L686.81 400.63 L688.17 400.63 L688.17 400.63 L689.54 400.63 L689.54 400.63 L690.90 400.63 L690.90 400.63 L692.26 400.63 L692.26 400.63 L693.62 400.63 L693.62 400.63 L694.98 400.63 L694.98 400.62 L696.34 400.62 L696.34 400.62 L697.71 400.62 L697.71 400.62 L699.07 400.62 L699.07 400.62 L700.43 400.62 L700.43 400.62 L701.79 400.62 L701.79 400.62 L703.15 400.62 L703.15 400.62 L704.52 400.62 L704.52 400.62 L705.88 400.62 L705.88 400.62 L707.24 400.62 L707.24 400.62 L708.60 400.62 L708.60 400.62 L709.96 400.62 L709.96 400.62 L711.32 400.62 L711.32 400.62 L712.69 400.62 L712.69 400.62 L714.05 400.62 L714.05 400.62 L715.41 400.62 L715.41 400.62 L716.77 400.62 L716.77 400.62 L718.13 400.62 L718.13 400.62 L719.50 400.62 L719.50 400.62 L720.86 400.62 L720.86 400.62 L722.22 400.62 L722.22 400.62 L723.58 400.62 L723.58 400.62 L724.94 400.62 L724.94 400.62 L726.30 400.62 L726.30 400.62 L727.67 400.62 L727.67 400.62 L729.03 400.62 L729.03 400.62 L730.39 400.62 L730.39 400.62 L731.75 400.62 L731.75 400.62 L733.11 400.62 L733.11 400.62 L734.48 400.62 L734.48 400.62 L735.84 400.62 L735.84 400.62 L737.20 400.62 L737.20 400.62 L738.56 400.62 L738.56 400.62 L739.92 400.62 L739.92 400.62 L741.28 400.62 L741.28 400.62 L742.65 400.62 L742.65 400.62 L744.01 400.62 L744.01 400.62 L745.37 400.62 L745.37 400.61 L746.73 400.61 L746.73 400.61 L748.09 400.61 L748.09 400.61 L749.45 400.61 L749.45 400.61 L750.82 400.61 L750.82 400.61 L752.18 400.61 L752.18 400.61 L753.54 400.61 L753.54 400.61 L754.90 400.61 L754.90 400.61 L756.26 400.61 L756.26 400.61 L757.63 400.61 L757.63 400.61 L758.99 400.61 L758.99 400.61 L760.35 400.61 L760.35 400.61 L761.71 400.61 L761.71 400.61 L763.07 400.61 L763.07 400.61 L764.43 400.61 L764.43 400.61 L765.80 400.61 L765.80 400.61 L767.16 400.61 L767.16 400.61 L768.52 400.61 L768.52 400.61 L769.88 400.61 L769.88 400.61 L771.24 400.61 L771.24 400.61 L772.61 400.61 L772.61 400.61 L773.97 400.61 L773.97 400.61 L775.33 400.61 L775.33 400.61 L776.69 400.61 L776.69 400.61 L778.05 400.61 L778.05 400.61 L779.41 400.61 L779.41 400.61 L780.78 400.61 L780.78 400.61 L782.14 400.61 L782.14 400.61 L783.50 400.61 L783.50 400.61 L784.86 400.61 L784.86 400.61 L786.22 400.61 L786.22 400.61 L787.59 400.61 L787.59 400.61 L788.95 400.61 L788.95 400.61 L790.31 400.61 L790.31 400.61 L791.67 400.61 L791.67 400.61 L793.03 400.61 L793.03 400.61 L794.39 400.61 L794.39 400.61 L795.76 400.61 L795.76 400.61 L797.12 400.61 L797.12 400.61 L798.48 400.61 L798.48 400.61 L799.84 400.61 L799.84 400.61 L801.20 400.61 L801.20 400.61 L802.57 400.61 L802.57 400.61 L803.93 400.61 L803.93 400.61 L805.29 400.61 L805.29 400.61 L806.65 400.61 L806.65 400.61 L808.01 400.61 L808.01 400.61 L809.37 400.61 L809.37 400.61 L810.74 400.61 L810.74 400.61 L812.10 400.61 L812.10 400.61 L813.46 400.61 L813.46 400.60 L814.82 400.60 L814.82 400.60 L816.18 400.60 L816.18 400.60 L817.54 400.60 L817.54 400.60 L818.91 400.60 L818.91 400.60 L820.27 400.60 L820.27 400.60 L821.63 400.60 L821.63 400.60 L822.99 400.60 L822.99 400.60 L824.35 400.60 L824.35 400.60 L825.72 400.60 L825.72 400.60" stroke="#ff0000" stroke-width="5.20" stroke-dasharray="19.24 8.32" stroke-dashoffset="22.62"/>
<path d="M103.96 534.72 L105.32 534.72 L105.32 511.24 L106.69 511.24 L106.69 497.51 L108.05 497.51 L108.05 487.76 L109.41 487.76 L109.41 480.20 L110.77 480.20 L110.77 474.03 L112.13 474.03 L112.13 468.80 L113.49 468.80 L113.49 464.28 L114.86 464.28 L114.86 460.29 L116.22 460.29 L116.22 456.72 L117.58 456.72 L117.58 453.49 L118.94 453.49 L118.94 450.55 L120.30 450.55 L120.30 447.83 L121.67 447.83 L121.67 445.32 L123.03 445.32 L123.03 442.99 L124.39 442.99 L124.39 440.80 L125.75 440.80 L125.75 438.75 L127.11 438.75 L127.11 436.81 L128.47 436.81 L128.47 434.98 L129.84 434.98 L129.84 433.24 L131.20 433.24 L131.20 431.59 L132.56 431.59 L132.56 430.01 L133.92 430.01 L133.92 428.51 L135.28 428.51 L135.28 427.07 L136.64 427.07 L136.64 425.68 L138.01 425.68 L138.01 424.35 L139.37 424.35 L139.37 423.08 L140.73 423.08 L140.73 421.84 L142.09 421.84 L142.09 420.65 L143.45 420.65 L143.45 419.51 L144.82 419.51 L144.82 418.40 L146.18 418.40 L146.18 417.32 L147.54 417.32 L147.54 416.28 L148.90 416.28 L148.90 415.27 L150.26 415.27 L150.26 414.28 L151.62 414.28 L151.62 413.33 L152.99 413.33 L152.99 412.40 L154.35 412.40 L154.35 411.50 L155.71 411.50 L155.71 410.62 L157.07 410.62 L157.07 409.76 L158.43 409.76 L158.43 408.92 L159.80 408.92 L159.80 408.11 L161.16 408.11 L161.16 407.31 L162.52 407.31 L162.52 406.53 L163.88 406.53 L163.88 405.77 L165.24 405.77 L165.24 405.03 L166.60 405.03 L166.60 404.30 L167.97 404.30 L167.97 403.58 L169.33 403.58 L169.33 402.89 L170.69 402.89 L170.69 402.20 L172.05 402.20 L172.05 401.53 L173.41 401.53 L173.41 400.87 L174.78 400.87 L174.78 400.23 L176.14 400.23 L176.14 399.59 L177.50 399.59 L177.50 398.97 L178.86 398.97 L178.86 398.36 L180.22 398.36 L180.22 397.76 L181.58 397.76 L181.58 397.17 L182.95 397.17 L182.95 396.60 L184.31 396.60 L184.31 396.03 L185.67 396.03 L185.67 395.47 L187.03 395.47 L187.03 394.91 L188.39 394.91 L188.39 394.37 L189.76 394.37 L189.76 393.84 L191.12 393.84 L191.12 393.31 L192.48 393.31 L192.48 392.80 L193.84 392.80 L193.84 392.29 L195.20 392.29 L195.20 391.79 L196.56 391.79 L196.56 391.29 L197.93 391.29 L197.93 390.80 L199.29 390.80 L199.29 390.32 L200.65 390.32 L200.65 389.85 L202.01 389.85 L202.01 389.38 L203.37 389.38 L203.37 388.92 L204.73 388.92 L204.73 388.47 L206.10 388.47 L206.10 388.02 L207.46 388.02 L207.46 387.58 L208.82 387.58 L208.82 387.14 L210.18 387.14 L210.18 386.71 L211.54 386.71 L211.54 386.28 L212.91 386.28 L212.91 385.86 L214.27 385.86 L214.27 385.44 L215.63 385.44 L215.63 385.03 L216.99 385.03 L216.99 384.63 L218.35 384.63 L218.35 384.23 L219.71 384.23 L219.71 383.83 L221.08 383.83 L221.08 383.44 L222.44 383.44 L222.44 383.05 L223.80 383.05 L223.80 382.67 L225.16 382.67 L225.16 382.29 L226.52 382.29 L226.52 381.92 L227.89 381.92 L227.89 381.55 L229.25 381.55 L229.25 381.18 L230.61 381.18 L230.61 380.82 L231.97 380.82 L231.97 380.46 L233.33 380.46 L233.33 380.10 L234.69 380.10 L234.69 379.75 L236.06 379.75 L236.06 379.41 L237.42 379.41 L237.42 379.06" stroke="#000000" stroke-width="5.20" stroke-dasharray="19.24 8.32" stroke-dashoffset="9.59"/>
<path d="M103.96 1000.00 L103.96 534.70 L105.32 534.70 L105.32 511.20 L106.69 511.20 L106.69 490.50 L108.05 490.50 L108.05 484.00 L109.41 484.00 L109.41 479.50 L110.77 479.50 L110.77 476.50 L112.13 476.50 L112.13 473.50 L113.49 473.50 L113.49 471.20 L114.86 471.20 L114.86 470.32 L116.22 470.32 L116.22 469.43 L117.58 469.43 L117.58 468.33 L118.94 468.33 L118.94 466.92 L120.30 466.92 L120.30 465.51 L121.67 465.51 L121.67 464.29 L123.03 464.29 L123.03 463.26 L124.39 463.26 L124.39 462.23 L125.75 462.23 L125.75 461.20 L127.11 461.20 L127.11 460.24 L128.47 460.24 L128.47 459.27 L129.84 459.27 L129.84 458.30 L131.20 458.30 L131.20 457.59 L132.56 457.59 L132.56 456.88 L133.92 456.88 L133.92 456.17 L135.28 456.17 L135.28 455.81 L136.64 455.81 L136.64 455.50 L138.01 455.50 L138.01 455.18 L139.37 455.18 L139.37 454.86 L140.73 454.86 L140.73 454.54 L142.09 454.54 L142.09 454.23 L143.45 454.23 L143.45 454.02 L144.82 454.02 L144.82 453.88 L146.18 453.88 L146.18 453.74 L147.54 453.74 L147.54 453.60 L148.90 453.60 L148.90 453.46 L150.26 453.46 L150.26 453.32 L151.62 453.32 L151.62 453.18 L152.99 453.18 L152.99 453.04 L154.35 453.04 L154.35 452.90 L155.71 452.90 L155.71 452.76 L157.07 452.76 L157.07 452.61 L158.43 452.61 L158.43 452.46 L159.80 452.46 L159.80 452.31 L161.16 452.31 L161.16 452.16 L162.52 452.16 L162.52 452.01 L163.88 452.01 L163.88 451.86 L165.24 451.86 L165.24 451.71 L166.60 451.71 L166.60 451.56 L167.97 451.56 L167.97 451.41 L169.33 451.41 L169.33 451.26 L170.69 451.26 L170.69 451.11 L172.05 451.11 L172.05 450.97 L173.41 450.97 L173.41 450.88 L174.78 450.88 L174.78 450.79 L176.14 450.79 L176.14 450.71 L177.50 450.71 L177.50 450.62 L178.86 450.62 L178.86 450.53 L180.22 450.53 L180.22 450.50 L181.58 450.50 L181.58 450.49 L182.95 450.49 L182.95 450.48 L184.31 450.48 L184.31 450.48 L185.67 450.48 L185.67 450.47 L187.03 450.47 L187.03 450.47 L188.39 450.47 L188.39 450.46 L189.76 450.46 L189.76 450.45 L191.12 450.45 L191.12 450.45 L192.48 450.45 L192.48 450.44 L193.84 450.44 L193.84 450.44 L195.20 450.44 L195.20 450.43 L196.56 450.43 L196.56 450.42 L197.93 450.42 L197.93 450.42 L199.29 450.42 L199.29 450.41 L200.65 450.41 L200.65 450.41 L202.01 450.41 L202.01 450.40 L203.37 450.40 L203.37 450.40 L204.73 450.40 L204.73 450.39 L206.10 450.39 L206.10 450.38 L207.46 450.38 L207.46 450.38 L208.82 450.38 L208.82 450.37 L210.18 450.37 L210.18 450.37 L211.54 450.37 L211.54 450.36 L212.91 450.36 L212.91 450.35 L214.27 450.35 L214.27 450.35 L215.63 450.35 L215.63 450.34 L216.99 450.34 L216.99 450.34 L218.35 450.34 L218.35 450.33 L219.71 450.33 L219.71 450.32 L221.08 450.32 L221.08 450.32 L222.44 450.32 L222.44 450.31 L223.80 450.31 L223.80 450.31 L225.16 450.31 L225.16 450.30 L226.52 450.30 L226.52 450.29 L227.89 450.29 L227.89 450.29 L229.25 450.29 L229.25 450.28 L230.61 450.28 L230.61 450.28 L231.97 450.28 L231.97 450.27 L233.33 450.27 L233.33 450.27 L234.69 450.27 L234.69 450.26 L236.06 450.26 L236.06 450.25 L237.42 450.25 L237.42 450.25 L238.78 450.25 L238.78 450.24 L240.14 450.24 L240.14 450.24 L241.50 450.24 L241.50 450.23 L242.87 450.23 L242.87 450.22 L244.23 450.22 L244.23 450.22 L245.59 450.22 L245.59 450.21 L246.95 450.21 L246.95 450.21 L248.31 450.21 L248.31 450.20 L249.67 450.20 L249.67 450.20 L251.04 450.20 L251.04 450.20 L252.40 450.20 L252.40 450.20 L253.76 450.20 L253.76 450.20 L255.12 450.20 L255.12 450.20 L256.48 450.20 L256.48 450.20 L257.85 450.20 L257.85 450.20 L259.21 450.20 L259.21 450.20 L260.57 450.20 L260.57 450.20 L261.93 450.20 L261.93 450.20 L263.29 450.20 L263.29 450.20 L264.65 450.20 L264.65 450.20 L266.02 450.20 L266.02 450.19 L267.38 450.19 L267.38 450.19 L268.74 450.19 L268.74 450.19 L270.10 450.19 L270.10 450.19 L271.46 450.19 L271.46 450.19 L272.82 450.19 L272.82 450.19 L274.19 450.19 L274.19 450.19 L275.55 450.19 L275.55 450.19 L276.91 450.19 L276.91 450.19 L278.27 450.19 L278.27 450.19 L279.63 450.19 L279.63 450.19 L281.00 450.19 L281.00 450.19 L282.36 450.19 L282.36 450.19 L283.72 450.19 L283.72 450.19 L285.08 450.19 L285.08 450.19 L286.44 450.19 L286.44 450.19 L287.80 450.19 L287.80 450.19 L289.17 450.19 L289.17 450.19 L290.53 450.19 L290.53 450.19 L291.89 450.19 L291.89 450.19 L293.25 450.19 L293.25 450.19 L294.61 450.19 L294.61 450.19 L295.98 450.19 L295.98 450.19 L297.34 450.19 L297.34 450.19 L298.70 450.19 L298.70 450.18 L300.06 450.18 L300.06 450.18 L301.42 450.18 L301.42 450.18 L302.78 450.18 L302.78 450.18 L304.15 450.18 L304.15 450.18 L305.51 450.18 L305.51 450.18 L306.87 450.18 L306.87 450.18 L308.23 450.18 L308.23 450.18 L309.59 450.18 L309.59 450.18 L310.96 450.18 L310.96 450.18 L312.32 450.18 L312.32 450.18 L313.68 450.18 L313.68 450.18 L315.04 450.18 L315.04 450.18 L316.40 450.18 L316.40 450.18 L317.76 450.18 L317.76 450.18 L319.13 450.18 L319.13 450.18 L320.49 450.18 L320.49 450.18 L321.85 450.18 L321.85 450.18 L323.21 450.18 L323.21 450.18 L324.57 450.18 L324.57 450.18 L325.94 450.18 L325.94 450.18 L327.30 450.18 L327.30 450.18 L328.66 450.18 L328.66 450.18 L330.02 450.18 L330.02 450.18 L331.38 450.18 L331.38 450.18 L332.74 450.18 L332.74 450.17 L334.11 450.17 L334.11 450.17 L335.47 450.17 L335.47 450.17 L336.83 450.17 L336.83 450.17 L338.19 450.17 L338.19 450.17 L339.55 450.17 L339.55 450.17 L340.91 450.17 L340.91 450.17 L342.28 450.17 L342.28 450.17 L343.64 450.17 L343.64 450.17 L345.00 450.17 L345.00 450.17 L346.36 450.17 L346.36 450.17 L347.72 450.17 L347.72 450.17 L349.09 450.17 L349.09 450.17 L350.45 450.17 L350.45 450.17 L351.81 450.17 L351.81 450.17 L353.17 450.17 L353.17 450.17 L354.53 450.17 L354.53 450.17 L355.89 450.17 L355.89 450.17 L357.26 450.17 L357.26 450.17 L358.62 450.17 L358.62 450.17 L359.98 450.17 L359.98 450.17 L361.34 450.17 L361.34 450.17 L362.70 450.17 L362.70 450.17 L364.07 450.17 L364.07 450.17 L365.43 450.17 L365.43 450.17 L366.79 450.17 L366.79 450.16 L368.15 450.16 L368.15 450.16 L369.51 450.16 L369.51 450.16 L370.87 450.16 L370.87 450.16 L372.24 450.16 L372.24 450.16 L373.60 450.16 L373.60 450.16 L374.96 450.16 L374.96 450.16 L376.32 450.16 L376.32 450.16 L377.68 450.16 L377.68 450.16 L379.05 450.16 L379.05 450.16 L380.41 450.16 L380.41 450.16 L381.77 450.16 L381.77 450.16 L383.13 450.16 L383.13 450.16 L384.49 450.16 L384.49 450.16 L385.85 450.16 L385.85 450.16 L387.22 450.16 L387.22 450.16 L388.58 450.16 L388.58 450.16 L389.94 450.16 L389.94 450.16 L391.30 450.16 L391.30 450.16 L392.66 450.16 L392.66 450.16 L394.03 450.16 L394.03 450.16 L395.39 450.16 L395.39 450.16 L396.75 450.16 L396.75 450.16 L398.11 450.16 L398.11 450.16 L399.47 450.16 L399.47 450.15 L400.83 450.15 L400.83 450.15 L402.20 450.15 L402.20 450.15 L403.56 450.15 L403.56 450.15 L404.92 450.15 L404.92 450.15 L406.28 450.15 L406.28 450.15 L407.64 450.15 L407.64 450.15 L409.00 450.15 L409.00 450.15 L410.37 450.15 L410.37 450.15 L411.73 450.15 L411.73 450.15 L413.09 450.15 L413.09 450.15 L414.45 450.15 L414.45 450.15 L415.81 450.15 L415.81 450.15 L417.18 450.15 L417.18 450.15 L418.54 450.15 L418.54 450.15 L419.90 450.15 L419.90 450.15 L421.26 450.15 L421.26 450.15 L422.62 450.15 L422.62 450.15 L423.98 450.15 L423.98 450.15 L425.35 450.15 L425.35 450.15 L426.71 450.15 L426.71 450.15 L428.07 450.15 L428.07 450.15 L429.43 450.15 L429.43 450.15 L430.79 450.15 L430.79 450.15 L432.16 450.15 L432.16 450.15 L433.52 450.15 L433.52 450.14 L434.88 450.14 L434.88 450.14 L436.24 450.14 L436.24 450.14 L437.60 450.14 L437.60 450.14 L438.96 450.14 L438.96 450.14 L440.33 450.14 L440.33 450.14 L441.69 450.14 L441.69 450.14 L443.05 450.14 L443.05 450.14 L444.41 450.14 L444.41 450.14 L445.77 450.14 L445.77 450.14 L447.14 450.14 L447.14 450.14 L448.50 450.14 L448.50 450.14 L449.86 450.14 L449.86 450.14 L451.22 450.14 L451.22 450.14 L452.58 450.14 L452.58 450.14 L453.94 450.14 L453.94 450.14 L455.31 450.14 L455.31 450.14 L456.67 450.14 L456.67 450.14 L458.03 450.14 L458.03 450.14 L459.39 450.14 L459.39 450.14 L460.75 450.14 L460.75 450.14 L462.12 450.14 L462.12 450.14 L463.48 450.14 L463.48 450.14 L464.84 450.14 L464.84 450.14 L466.20 450.14 L466.20 450.14 L467.56 450.14 L467.56 450.13 L468.92 450.13 L468.92 450.13 L470.29 450.13 L470.29 450.13 L471.65 450.13 L471.65 450.13 L473.01 450.13 L473.01 450.13 L474.37 450.13 L474.37 450.13 L475.73 450.13 L475.73 450.13 L477.09 450.13 L477.09 450.13 L478.46 450.13 L478.46 450.13 L479.82 450.13 L479.82 450.13 L481.18 450.13 L481.18 450.13 L482.54 450.13 L482.54 450.13 L483.90 450.13 L483.90 450.13 L485.27 450.13 L485.27 450.13 L486.63 450.13 L486.63 450.13 L487.99 450.13 L487.99 450.13 L489.35 450.13 L489.35 450.13 L490.71 450.13 L490.71 450.13 L492.07 450.13 L492.07 450.13 L493.44 450.13 L493.44 450.13 L494.80 450.13 L494.80 450.13 L496.16 450.13 L496.16 450.13 L497.52 450.13 L497.52 450.13 L498.88 450.13 L498.88 450.13 L500.25 450.13 L500.25 450.12 L501.61 450.12 L501.61 450.12 L502.97 450.12 L502.97 450.12 L504.33 450.12 L504.33 450.12 L505.69 450.12 L505.69 450.12 L507.05 450.12 L507.05 450.12 L508.42 450.12 L508.42 450.12 L509.78 450.12 L509.78 450.12 L511.14 450.12 L511.14 450.12 L512.50 450.12 L512.50 450.12 L513.86 450.12 L513.86 450.12 L515.23 450.12 L515.23 450.12 L516.59 450.12 L516.59 450.12 L517.95 450.12 L517.95 450.12 L519.31 450.12 L519.31 450.12 L520.67 450.12 L520.67 450.12 L522.03 450.12 L522.03 450.12 L523.40 450.12 L523.40 450.12 L524.76 450.12 L524.76 450.12 L526.12 450.12 L526.12 450.12 L527.48 450.12 L527.48 450.12 L528.84 450.12 L528.84 450.12 L530.21 450.12 L530.21 450.12 L531.57 450.12 L531.57 450.12 L532.93 450.12 L532.93 450.12 L534.29 450.12 L534.29 450.11 L535.65 450.11 L535.65 450.11 L537.01 450.11 L537.01 450.11 L538.38 450.11 L538.38 450.11 L539.74 450.11 L539.74 450.11 L541.10 450.11 L541.10 450.11 L542.46 450.11 L542.46 450.11 L543.82 450.11 L543.82 450.11 L545.18 450.11 L545.18 450.11 L546.55 450.11 L546.55 450.11 L547.91 450.11 L547.91 450.11 L549.27 450.11 L549.27 450.11 L550.63 450.11 L550.63 450.11 L551.99 450.11 L551.99 450.11 L553.36 450.11 L553.36 450.11 L554.72 450.11 L554.72 450.11 L556.08 450.11 L556.08 450.11 L557.44 450.11 L557.44 450.11 L558.80 450.11 L558.80 450.11 L560.16 450.11 L560.16 450.11 L561.53 450.11 L561.53 450.11 L562.89 450.11 L562.89 450.11 L564.25 450.11 L564.25 450.11 L565.61 450.11 L565.61 450.11 L566.97 450.11 L566.97 450.11 L568.34 450.11 L568.34 450.10 L569.70 450.10 L569.70 450.10 L571.06 450.10 L571.06 450.10 L572.42 450.10 L572.42 450.10 L573.78 450.10 L573.78 450.10 L575.14 450.10 L575.14 450.10 L576.51 450.10 L576.51 450.10 L577.87 450.10 L577.87 450.10 L579.23 450.10 L579.23 450.10 L580.59 450.10 L580.59 450.10 L581.95 450.10 L581.95 450.10 L583.32 450.10 L583.32 450.10 L584.68 450.10 L584.68 450.10 L586.04 450.10 L586.04 450.10 L587.40 450.10 L587.40 450.10 L588.76 450.10 L588.76 450.10 L590.12 450.10 L590.12 450.10 L591.49 450.10 L591.49 450.10 L592.85 450.10 L592.85 450.10 L594.21 450.10 L594.21 450.10 L595.57 450.10 L595.57 450.10 L596.93 450.10 L596.93 450.10 L598.30 450.10 L598.30 450.10 L599.66 450.10 L599.66 450.10 L601.02 450.10 L601.02 450.09 L602.38 450.09 L602.38 450.09 L603.74 450.09 L603.74 450.09 L605.10 450.09 L605.10 450.09 L606.47 450.09 L606.47 450.09 L607.83 450.09 L607.83 450.09 L609.19 450.09 L609.19 450.09 L610.55 450.09 L610.55 450.09 L611.91 450.09 L611.91 450.09 L613.27 450.09 L613.27 450.09 L614.64 450.09 L614.64 450.09 L616.00 450.09 L616.00 450.09 L617.36 450.09 L617.36 450.09 L618.72 450.09 L618.72 450.09 L620.08 450.09 L620.08 450.09 L621.45 450.09 L621.45 450.09 L622.81 450.09 L622.81 450.09 L624.17 450.09 L624.17 450.09 L625.53 450.09 L625.53 450.09 L626.89 450.09 L626.89 450.09 L628.25 450.09 L628.25 450.09 L629.62 450.09 L629.62 450.09 L630.98 450.09 L630.98 450.09 L632.34 450.09 L632.34 450.09 L633.70 450.09 L633.70 450.09 L635.06 450.09 L635.06 450.08 L636.43 450.08 L636.43 450.08 L637.79 450.08 L637.79 450.08 L639.15 450.08 L639.15 450.08 L640.51 450.08 L640.51 450.08 L641.87 450.08 L641.87 450.08 L643.23 450.08 L643.23 450.08 L644.60 450.08 L644.60 450.08 L645.96 450.08 L645.96 450.08 L647.32 450.08 L647.32 450.08 L648.68 450.08 L648.68 450.08 L650.04 450.08 L650.04 450.08 L651.41 450.08 L651.41 450.08 L652.77 450.08 L652.77 450.08 L654.13 450.08 L654.13 450.08 L655.49 450.08 L655.49 450.08 L656.85 450.08 L656.85 450.08 L658.21 450.08 L658.21 450.08 L659.58 450.08 L659.58 450.08 L660.94 450.08 L660.94 450.08 L662.30 450.08 L662.30 450.08 L663.66 450.08 L663.66 450.08 L665.02 450.08 L665.02 450.08 L666.39 450.08 L666.39 450.08 L667.75 450.08 L667.75 450.08 L669.11 450.08 L669.11 450.07 L670.47 450.07 L670.47 450.07 L671.83 450.07 L671.83 450.07 L673.19 450.07 L673.19 450.07 L674.56 450.07 L674.56 450.07 L675.92 450.07 L675.92 450.07 L677.28 450.07 L677.28 450.07 L678.64 450.07 L678.64 450.07 L680.00 450.07 L680.00 450.07 L681.37 450.07 L681.37 450.07 L682.73 450.07 L682.73 450.07 L684.09 450.07 L684.09 450.07 L685.45 450.07 L685.45 450.07 L686.81 450.07 L686.81 450.07 L688.17 450.07 L688.17 450.07 L689.54 450.07 L689.54 450.07 L690.90 450.07 L690.90 450.07 L692.26 450.07 L692.26 450.07 L693.62 450.07 L693.62 450.07 L694.98 450.07 L694.98 450.07 L696.34 450.07 L696.34 450.07 L697.71 450.07 L697.71 450.07 L699.07 450.07 L699.07 450.07 L700.43 450.07 L700.43 450.07 L701.79 450.07 L701.79 450.06 L703.15 450.06 L703.15 450.06 L704.52 450.06 L704.52 450.06 L705.88 450.06 L705.88 450.06 L707.24 450.06 L707.24 450.06 L708.60 450.06 L708.60 450.06 L709.96 450.06 L709.96 450.06 L711.32 450.06 L711.32 450.06 L712.69 450.06 L712.69 450.06 L714.05 450.06 L714.05 450.06 L715.41 450.06 L715.41 450.06 L716.77 450.06 L716.77 450.06 L718.13 450.06 L718.13 450.06 L719.50 450.06 L719.50 450.06 L720.86 450.06 L720.86 450.06 L722.22 450.06 L722.22 450.06 L723.58 450.06 L723.58 450.06 L724.94 450.06 L724.94 450.06 L726.30 450.06 L726.30 450.06 L727.67 450.06 L727.67 450.06 L729.03 450.06 L729.03 450.06 L730.39 450.06 L730.39 450.06 L731.75 450.06 L731.75 450.06 L733.11 450.06 L733.11 450.06 L734.48 450.06 L734.48 450.06 L735.84 450.06 L735.84 450.05 L737.20 450.05 L737.20 450.05 L738.56 450.05 L738.56 450.05 L739.92 450.05 L739.92 450.05 L741.28 450.05 L741.28 450.05 L742.65 450.05 L742.65 450.05 L744.01 450.05 L744.01 450.05 L745.37 450.05 L745.37 450.05 L746.73 450.05 L746.73 450.05 L748.09 450.05 L748.09 450.05 L749.45 450.05 L749.45 450.05 L750.82 450.05 L750.82 450.05 L752.18 450.05 L752.18 450.05 L753.54 450.05 L753.54 450.05 L754.90 450.05 L754.90 450.05 L756.26 450.05 L756.26 450.05 L757.63 450.05 L757.63 450.05 L758.99 450.05 L758.99 450.05 L760.35 450.05 L760.35 450.05 L761.71 450.05 L761.71 450.05 L763.07 450.05 L763.07 450.05 L764.43 450.05 L764.43 450.05 L765.80 450.05 L765.80 450.05 L767.16 450.05 L767.16 450.05 L768.52 450.05 L768.52 450.05 L769.88 450.05 L769.88 450.04 L771.24 450.04 L771.24 450.04 L772.61 450.04 L772.61 450.04 L773.97 450.04 L773.97 450.04 L775.33 450.04 L775.33 450.04 L776.69 450.04 L776.69 450.04 L778.05 450.04 L778.05 450.04 L779.41 450.04 L779.41 450.04 L780.78 450.04 L780.78 450.04 L782.14 450.04 L782.14 450.04 L783.50 450.04 L783.50 450.04 L784.86 450.04 L784.86 450.04 L786.22 450.04 L786.22 450.04 L787.59 450.04 L787.59 450.04 L788.95 450.04 L788.95 450.04 L790.31 450.04 L790.31 450.04 L791.67 450.04 L791.67 450.04 L793.03 450.04 L793.03 450.04 L794.39 450.04 L794.39 450.04 L795.76 450.04 L795.76 450.04 L797.12 450.04 L797.12 450.04 L798.48 450.04 L798.48 450.04 L799.84 450.04 L799.84 450.04 L801.20 450.04 L801.20 450.04 L802.57 450.04 L802.57 450.03 L803.93 450.03 L803.93 450.03 L805.29 450.03 L805.29 450.03 L806.65 450.03 L806.65 450.03 L808.01 450.03 L808.01 450.03 L809.37 450.03 L809.37 450.03 L810.74 450.03 L810.74 450.03 L812.10 450.03 L812.10 450.03 L813.46 450.03 L813.46 450.03 L814.82 450.03 L814.82 450.03 L816.18 450.03 L816.18 450.03 L817.54 450.03 L817.54 450.03 L818.91 450.03 L818.91 450.03 L820.27 450.03 L820.27 450.03 L821.63 450.03 L821.63 450.03 L822.99 450.03 L822.99 450.03 L824.35 450.03 L824.35 450.03 L825.72 450.03 L825.72 450.03 L827.08 450.03 L827.08 450.03 L828.44 450.03 L828.44 450.03 L829.80 450.03 L829.80 450.03 L831.16 450.03 L831.16 450.03 L832.52 450.03 L832.52 450.03 L833.89 450.03 L833.89 450.03 L835.25 450.03 L835.25 450.03 L836.61 450.03 L836.61 450.02 L837.97 450.02 L837.97 450.02 L839.33 450.02 L839.33 450.02 L840.70 450.02 L840.70 450.02 L842.06 450.02 L842.06 450.02 L843.42 450.02 L843.42 450.02 L844.78 450.02 L844.78 450.02 L846.14 450.02 L846.14 450.02 L847.50 450.02 L847.50 450.02 L848.87 450.02 L848.87 450.02 L850.23 450.02 L850.23 450.02 L851.59 450.02 L851.59 450.02 L852.95 450.02 L852.95 450.02 L854.31 450.02 L854.31 450.02 L855.68 450.02 L855.68 450.02 L857.04 450.02 L857.04 450.02 L858.40 450.02 L858.40 450.02 L859.76 450.02 L859.76 450.02 L861.12 450.02 L861.12 450.02 L862.48 450.02 L862.48 450.02 L863.85 450.02 L863.85 450.02 L865.21 450.02 L865.21 450.02" stroke="#0000ff" stroke-width="5.20" stroke-dasharray="19.24 8.32" stroke-dashoffset="12.84"/>
</g>
<g stroke="#000" stroke-width="1.39" fill="none" stroke-linecap="square">
<rect x="95.80" y="0.70" width="755.80" height="311.90"/>
<rect x="95.80" y="312.60" width="755.80" height="312.00"/>
</g>
<path d="M89.80 303.90H95.80M89.80 217.27H95.80M89.80 130.64H95.80M89.80 44.01H95.80M102.60 624.60V630.60M238.78 624.60V630.60M374.96 624.60V630.60M511.14 624.60V630.60M647.32 624.60V630.60M783.50 624.60V630.60M851.60 624.60H857.60M851.60 546.60H857.60M851.60 468.60H857.60M851.60 390.60H857.60M851.60 312.60H857.60M851.60 601.12H855.10M851.60 587.38H855.10M851.60 577.64H855.10M851.60 570.08H855.10M851.60 563.90H855.10M851.60 558.68H855.10M851.60 554.16H855.10M851.60 550.17H855.10M851.60 523.12H855.10M851.60 509.38H855.10M851.60 499.64H855.10M851.60 492.08H855.10M851.60 485.90H855.10M851.60 480.68H855.10M851.60 476.16H855.10M851.60 472.17H855.10M851.60 445.12H855.10M851.60 431.38H855.10M851.60 421.64H855.10M851.60 414.08H855.10M851.60 407.90H855.10M851.60 402.68H855.10M851.60 398.16H855.10M851.60 394.17H855.10M851.60 367.12H855.10M851.60 353.38H855.10M851.60 343.64H855.10M851.60 336.08H855.10M851.60 329.90H855.10M851.60 324.68H855.10M851.60 320.16H855.10M851.60 316.17H855.10" stroke="#000" stroke-width="1.39" fill="none"/>
<text transform="translate(64.12 315.60) scale(1.0250 1)" font-size="33.20" font-family="Liberation Sans, sans-serif">0</text>
<text transform="translate(44.45 228.97) scale(1.0606 1)" font-size="33.20" font-family="Liberation Sans, sans-serif">10</text>
<text transform="translate(44.18 142.34) scale(1.0681 1)" font-size="33.20" font-family="Liberation Sans, sans-serif">20</text>
<text transform="translate(44.73 55.71) scale(1.0526 1)" font-size="33.20" font-family="Liberation Sans, sans-serif">30</text>
<text transform="translate(93.10 660.30) scale(1.0375 1)" font-size="33.20" font-family="Liberation Sans, sans-serif">0</text>
<text transform="translate(209.76 660.30) scale(1.0563 1)" font-size="33.20" font-family="Liberation Sans, sans-serif">100</text>
<text transform="translate(344.61 660.30) scale(1.0813 1)" font-size="33.20" font-family="Liberation Sans, sans-serif">200</text>
<text transform="translate(481.05 660.30) scale(1.0768 1)" font-size="33.20" font-family="Liberation Sans, sans-serif">300</text>
<text transform="translate(617.99 660.30) scale(1.0742 1)" font-size="33.20" font-family="Liberation Sans, sans-serif">400</text>
<text transform="translate(753.81 660.30) scale(1.0590 1)" font-size="33.20" font-family="Liberation Sans, sans-serif">500</text>
<text transform="translate(864.26 636.00) scale(1.0545 1)" font-size="33.20" font-family="Liberation Sans, sans-serif">10</text>
<text transform="translate(904.27 623.50) scale(0.9304 1)" font-size="24.40" font-family="Liberation Sans, sans-serif">0</text>
<text transform="translate(864.26 557.50) scale(1.0545 1)" font-size="33.20" font-family="Liberation Sans, sans-serif">10</text>
<text transform="translate(904.55 545.20) scale(0.8837 1)" font-size="24.40" font-family="Liberation Sans, sans-serif">1</text>
<text transform="translate(864.26 479.40) scale(1.0545 1)" font-size="33.20" font-family="Liberation Sans, sans-serif">10</text>
<text transform="translate(903.72 467.70) scale(0.9455 1)" font-size="24.40" font-family="Liberation Sans, sans-serif">2</text>
<text transform="translate(864.26 401.60) scale(1.0545 1)" font-size="33.20" font-family="Liberation Sans, sans-serif">10</text>
<text transform="translate(903.94 389.60) scale(0.9565 1)" font-size="24.40" font-family="Liberation Sans, sans-serif">3</text>
<text transform="translate(864.26 323.20) scale(1.0545 1)" font-size="33.20" font-family="Liberation Sans, sans-serif">10</text>
<text transform="translate(904.03 312.00) scale(0.9469 1)" font-size="24.40" font-family="Liberation Sans, sans-serif">4</text>
<text transform="translate(367.63 702.50) scale(1.0327 1)" font-size="41.40" font-family="Liberation Sans, sans-serif">Generation</text>
<text transform="translate(29.40 258.48) rotate(-90) scale(0.8636 1)" font-size="41.40" font-family="Liberation Sans, sans-serif" style="font-style:italic">E</text>
<rect x="15.1" y="198.7" width="3.6" height="24.0" fill="#000"/>
<text transform="translate(29.40 188.16) rotate(-90) scale(0.7664 1)" font-size="41.40" font-family="Liberation Sans, sans-serif" style="font-style:italic">E</text>
<text transform="translate(35.30 163.41) rotate(-90) scale(0.9673 1)" font-size="29.00" font-family="Liberation Sans, sans-serif">0</text>
<text transform="translate(29.40 133.09) rotate(-90) scale(0.9952 1)" font-size="41.40" font-family="Liberation Sans, sans-serif">(eV)</text>
<text transform="translate(948.70 686.92) rotate(-90) scale(1.0609 1)" font-size="32.90" font-family="Liberation Sans, sans-serif">Fitness-function Evaluations</text>
<rect x="187.3" y="14.6" width="650.75" height="130.5" rx="5" ry="5" fill="#fff" fill-opacity="0.8" stroke="#cccccc" stroke-width="1.5"/>
<path d="M198.65 37.75H253.55" stroke="#000" stroke-width="9.1" stroke-linecap="square"/>
<path d="M198.65 78.25H253.55" stroke="#ff0000" stroke-width="9.1" stroke-linecap="square"/>
<path d="M198.65 118.75H253.55" stroke="#0000ff" stroke-width="9.1" stroke-linecap="square"/>
<text transform="translate(276.90 47.80) scale(1.0142 1)" font-size="30.20" font-family="Liberation Sans, sans-serif">w/o</text>
<text transform="translate(332.99 47.80) scale(1.0425 1)" font-size="30.20" font-family="Liberation Sans, sans-serif">Metamodel</text>
<text transform="translate(276.90 88.30) scale(1.0248 1)" font-size="30.20" font-family="Liberation Sans, sans-serif">w/</text>
<text transform="translate(316.51 88.30) scale(1.0356 1)" font-size="30.20" font-family="Liberation Sans, sans-serif">Metamodel</text>
<text transform="translate(480.12 88.30) scale(1.0311 1)" font-size="30.20" font-family="Liberation Sans, sans-serif">Fingerprints</text>
<text transform="translate(276.90 128.80) scale(1.0248 1)" font-size="30.20" font-family="Liberation Sans, sans-serif">w/</text>
<text transform="translate(316.51 128.80) scale(1.0356 1)" font-size="30.20" font-family="Liberation Sans, sans-serif">Metamodel</text>
<text transform="translate(480.40 128.80) scale(0.9202 1)" font-size="30.20" font-family="Liberation Sans, sans-serif">MBTR</text>
<path d="M700 37.5H755.3" stroke="#000" stroke-width="3.54" stroke-linecap="square"/>
<path d="M699.8 78H755.6" stroke="#000" stroke-width="3.54" stroke-dasharray="13.1 5.0"/>
<text transform="translate(788.03 46.10) scale(0.8718 1)" font-size="30.20" font-family="Liberation Sans, sans-serif" style="font-style:italic">E</text>
<path d="M785.6 24.8L780.6 37.05L785.6 49.3M808.1 24.8L813.1 37.05L808.1 49.3" stroke="#000" stroke-width="2.1" fill="none"/>
<text transform="translate(777.67 88.10) scale(0.8507 1)" font-size="30.20" font-family="Liberation Sans, sans-serif">FFE</text>
</svg></div></body></html>
